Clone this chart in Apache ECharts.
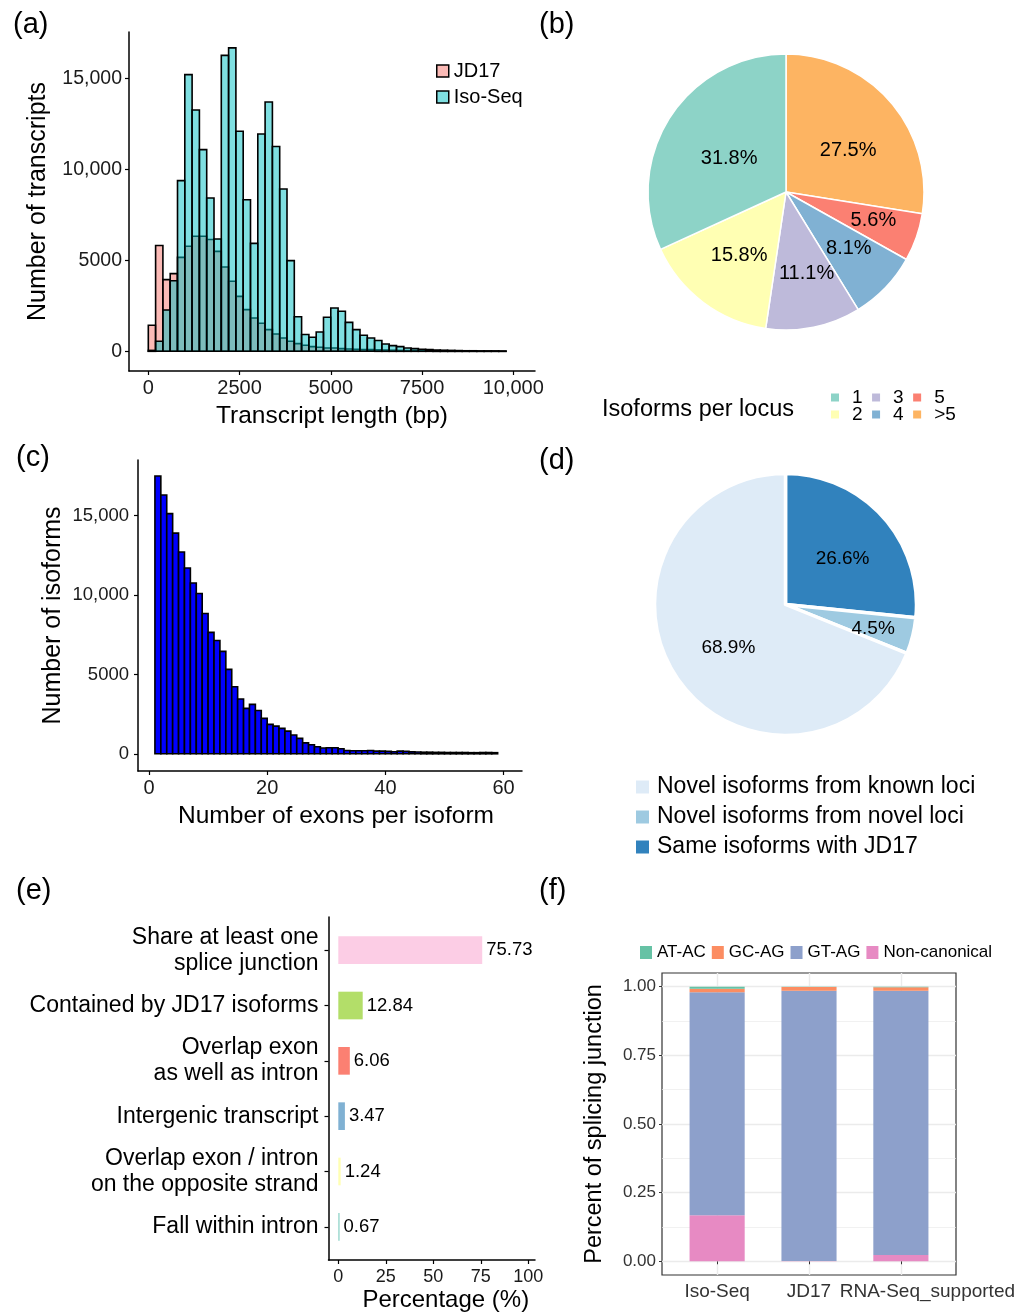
<!DOCTYPE html>
<html>
<head>
<meta charset="utf-8">
<script src="https://cdn.jsdelivr.net/npm/echarts@6/dist/echarts.min.js"></script>
<style>
  html, body { margin: 0; padding: 0; background: #fff; }
  #chart { width: 1032px; height: 1312px; }
</style>
</head>
<body>
<div id="chart"></div>
<script>
const FONT = '"Liberation Sans", Arial, sans-serif'

// (a) transcript length histogram, 200 bp bins from 0
const lengthBinWidth = 200
const jd17Counts = [1430, 5810, 3940, 4270, 5160, 5770, 6320, 6320, 6140, 5490, 4630, 3850, 3020, 2290, 1830, 1540, 1190, 950, 730, 550, 420, 330, 260, 220, 180, 180, 150, 130, 110, 100, 90, 80, 70, 60, 50, 40, 40, 30, 30, 20, 20, 20, 10, 10, 10, 10, 10, 10, 10]
const isoSeqCounts = [50, 550, 2270, 3880, 9380, 15200, 13260, 11080, 8420, 6170, 16260, 16670, 12090, 8330, 5930, 11940, 13700, 11250, 8920, 4980, 1900, 920, 770, 1060, 1870, 2380, 2200, 1590, 1190, 880, 730, 590, 400, 310, 260, 180, 150, 110, 90, 70, 60, 50, 40, 30, 30, 20, 20, 20, 10]
const lengthTicks = [0, 2500, 5000, 7500, 10000]
const countTicks = [0, 5000, 10000, 15000]

// (b) isoforms per locus
const locusClasses = ['>5', '5', '4', '3', '2', '1']
const locusPercents = [27.5, 5.6, 8.1, 11.1, 15.8, 31.8]

// (c) exons per isoform, one bin per exon count starting at 1
const exonCounts = [17500, 16300, 15130, 13900, 12710, 11700, 10760, 10100, 8840, 7650, 7140, 6450, 5320, 4220, 3450, 2860, 3110, 2730, 2230, 1850, 1740, 1600, 1430, 1180, 970, 690, 570, 440, 360, 380, 380, 320, 210, 190, 190, 190, 210, 170, 170, 150, 130, 170, 150, 120, 110, 100, 100, 90, 90, 80, 80, 80, 80, 70, 70, 80, 80, 70]
const exonTicks = [0, 20, 40, 60]

// (d) novelty classes
const noveltyClasses = ['Same isoforms with JD17', 'Novel isoforms from novel loci', 'Novel isoforms from known loci']
const noveltyPercents = [26.6, 4.5, 68.9]

// (e) structural categories
const classNames = ['Share at least one\nsplice junction', 'Contained by JD17 isoforms', 'Overlap exon\nas well as intron', 'Intergenic transcript', 'Overlap exon / intron\non the opposite strand', 'Fall within intron']
const classPercents = [75.73, 12.84, 6.06, 3.47, 1.24, 0.67]
const percentTicks = [0, 25, 50, 75, 100]

// (f) splice junction types
const junctionSamples = ['Iso-Seq', 'JD17', 'RNA-Seq_supported']
const atAc = [0.007, 0.001, 0.002]
const gcAg = [0.013, 0.014, 0.013]
const gtAg = [0.812, 0.984, 0.962]
const nonCanonical = [0.168, 0.001, 0.023]
const fractionTicks = [0, 0.25, 0.5, 0.75, 1]
const fractionMinorTicks = [0.125, 0.375, 0.625, 0.875]

// colours
const locusColors = { '1': '#8DD3C7', '2': '#FFFFB3', '3': '#BEBADA', '4': '#80B1D3', '5': '#FB8072', '>5': '#FDB462' }
const noveltyColors = ['#3182BD', '#9ECAE1', '#DEEBF7']
const classColors = ['#FCCDE5', '#B3DE69', '#FB8072', '#80B1D3', '#FFFFB3', '#8DD3C7']

// nudges of the pie percentage labels, px
const locusLabelShift = [[-1, 12], [9, 1], [3, -1], [4, 0], [3, -3], [13, 11]]
const noveltyLabelShift = [[-3, 9], [9, 5], [10, -2]]

const fmtCount = v => (v >= 10000 ? v.toLocaleString('en-US') : String(v))

function histRender(params, api) {
  const p0 = api.coord([api.value(0), api.value(2)])
  const p1 = api.coord([api.value(1), 0])
  return {
    type: 'rect',
    shape: { x: p0[0], y: p0[1], width: p1[0] - p0[0], height: p1[1] - p0[1] },
    style: { fill: api.visual('color'), stroke: '#000', lineWidth: 1.6 },
  }
}

function classRender(params, api) {
  const v = api.value(0)
  const pos = api.value(1)
  const a = api.coord([0, pos - 0.25])
  const b = api.coord([v, pos + 0.25])
  return {
    type: 'rect',
    shape: { x: a[0], y: Math.min(a[1], b[1]), width: b[0] - a[0], height: Math.abs(b[1] - a[1]) },
    style: { fill: classColors[params.dataIndex] },
    textContent: { type: 'text', style: { text: v.toFixed(2), fontSize: 18.5, fill: '#000', fontFamily: FONT } },
    textConfig: { position: 'right', distance: 4 },
  }
}

function stackRender(params, api) {
  const i = api.value(0)
  const a = api.coord([i - 0.3, api.value(2)])
  const b = api.coord([i + 0.3, api.value(1)])
  return {
    type: 'rect',
    shape: { x: a[0], y: a[1], width: b[0] - a[0], height: b[1] - a[1] },
    style: { fill: api.visual('color') },
  }
}

const lengthData = counts => counts.map((c, i) => [i * lengthBinWidth, (i + 1) * lengthBinWidth, c])
const exonData = exonCounts.map((c, i) => [i + 1, i + 2, c])

// stacked layers, bottom to top
const junctionLayers = [
  { name: 'Non-canonical', values: nonCanonical, color: '#E78AC3' },
  { name: 'GT-AG', values: gtAg, color: '#8DA0CB' },
  { name: 'GC-AG', values: gcAg, color: '#FC8D62' },
  { name: 'AT-AC', values: atAc, color: '#66C2A5' },
]
const stackBase = junctionSamples.map(() => 0)
const junctionSeries = junctionLayers.map(layer => ({
  type: 'custom',
  name: layer.name,
  xAxisIndex: 3,
  yAxisIndex: 3,
  itemStyle: { color: layer.color },
  renderItem: stackRender,
  encode: { x: 0, y: [1, 2] },
  data: layer.values.map((v, i) => {
    const lo = stackBase[i]
    stackBase[i] += v
    return [i + 1, lo, stackBase[i]]
  }),
}))

const blackAxis = { onZero: false, lineStyle: { color: '#000', width: 1.5 } }
const blackTick = { length: 4, lineStyle: { color: '#000', width: 1.2 } }
const gridBase = { containLabel: false, outerBoundsMode: 'none' }
const keepEnds = { showMinLabel: true, showMaxLabel: true }

const letter = (text, left, top) => ({
  text, left, top, padding: 0,
  textStyle: { fontSize: 29, fontWeight: 'normal', color: '#000', fontFamily: FONT },
})

const option = {
  animation: false,
  textStyle: { fontFamily: FONT },
  title: [
    letter('(a)', 13, 10),
    letter('(b)', 539, 10),
    letter('(c)', 16, 443),
    letter('(d)', 539, 446),
    letter('(e)', 16, 876),
    letter('(f)', 539, 876),
    {
      text: 'Isoforms per locus', left: 602, top: 398, padding: 0,
      textStyle: { fontSize: 23.5, fontWeight: 'normal', color: '#000', fontFamily: FONT },
    },
  ],
  legend: [
    {
      data: ['JD17', 'Iso-Seq'], orient: 'vertical', left: 436, top: 61, itemGap: 6, padding: 0,
      icon: 'rect', itemWidth: 12, itemHeight: 12, selectedMode: false,
      itemStyle: { borderColor: '#000', borderWidth: 1.5 },
      textStyle: { fontSize: 20, color: '#000' },
    },
    {
      data: ['1', '3', '5'], orient: 'horizontal', left: 831, top: 388, itemGap: 9.5, padding: 0,
      icon: 'rect', itemWidth: 8, itemHeight: 8, selectedMode: false,
      itemStyle: { borderWidth: 0 },
      textStyle: { fontSize: 19, color: '#000', padding: [0, 0, 0, 8] },
    },
    {
      data: ['2', '4', '>5'], orient: 'horizontal', left: 831, top: 405, itemGap: 9.5, padding: 0,
      icon: 'rect', itemWidth: 8, itemHeight: 8, selectedMode: false,
      itemStyle: { borderWidth: 0 },
      textStyle: { fontSize: 19, color: '#000', padding: [0, 0, 0, 8] },
    },
    {
      data: ['Novel isoforms from known loci', 'Novel isoforms from novel loci', 'Same isoforms with JD17'],
      orient: 'vertical', left: 636, top: 775, itemGap: 6, padding: 0,
      icon: 'rect', itemWidth: 13, itemHeight: 13, selectedMode: false,
      itemStyle: { borderWidth: 0 },
      textStyle: { fontSize: 23, color: '#000', lineHeight: 24, padding: [0, 0, 0, 3] },
    },
    {
      data: ['AT-AC', 'GC-AG', 'GT-AG', 'Non-canonical'], orient: 'horizontal', left: 640, top: 944, itemGap: 6, padding: 0,
      icon: 'rect', itemWidth: 12, itemHeight: 13, selectedMode: false,
      itemStyle: { borderWidth: 0 },
      textStyle: { fontSize: 17, color: '#000' },
    },
  ],
  grid: [
    { ...gridBase, left: 129, top: 32, width: 406, height: 339 },
    { ...gridBase, left: 138, top: 460, width: 384, height: 311 },
    { ...gridBase, left: 328.5, top: 917, width: 206.5, height: 343 },
    { ...gridBase, left: 662, top: 973, width: 294, height: 302, show: true, borderColor: '#333', borderWidth: 1.2 },
  ],
  xAxis: [
    {
      gridIndex: 0, type: 'value', min: -529, max: 10595,
      axisLine: blackAxis, axisTick: { ...blackTick, customValues: lengthTicks },
      axisLabel: { ...keepEnds, customValues: lengthTicks, formatter: fmtCount, fontSize: 20, color: '#1a1a1a', margin: 7 },
      splitLine: { show: false },
      name: 'Transcript length (bp)', nameLocation: 'middle', nameGap: 33,
      nameTextStyle: { fontSize: 24.5, color: '#000' },
    },
    {
      gridIndex: 1, type: 'value', min: -1.864, max: 63.12,
      axisLine: blackAxis, axisTick: { ...blackTick, customValues: exonTicks },
      axisLabel: { ...keepEnds, customValues: exonTicks, fontSize: 20, color: '#1a1a1a', margin: 7 },
      splitLine: { show: false },
      name: 'Number of exons per isoform', nameLocation: 'middle', nameGap: 33,
      nameTextStyle: { fontSize: 24.5, color: '#000', padding: [0, 0, 0, 12] },
    },
    {
      gridIndex: 2, type: 'value', min: -5.16, max: 103.5,
      axisLine: blackAxis, axisTick: { ...blackTick, customValues: percentTicks },
      axisLabel: { ...keepEnds, customValues: percentTicks, fontSize: 18, color: '#1a1a1a', margin: 8 },
      splitLine: { show: false },
      name: 'Percentage (%)', nameLocation: 'middle', nameGap: 28,
      nameTextStyle: { fontSize: 24, color: '#000', padding: [0, 0, 0, 28] },
    },
    {
      gridIndex: 3, type: 'value', min: 0.4, max: 3.6,
      axisLine: { show: false },
      axisTick: { customValues: [1, 2, 3], length: 3, lineStyle: { color: '#333' } },
      axisLabel: {
        ...keepEnds, customValues: [1, 2, 3],
        formatter: v => (v === 3 ? '{far|' + junctionSamples[2] + '}' : junctionSamples[Math.round(v) - 1]),
        rich: { far: { fontSize: 19, color: '#333', padding: [0, 0, 0, 53] } },
        fontSize: 19, color: '#333', margin: 7,
      },
      splitLine: { show: true, lineStyle: { color: '#EBEBEB', width: 1.4 } },
    },
  ],
  yAxis: [
    {
      gridIndex: 0, type: 'value', min: -1082, max: 17544,
      axisLine: blackAxis, axisTick: { ...blackTick, customValues: countTicks },
      axisLabel: { ...keepEnds, customValues: countTicks, formatter: fmtCount, fontSize: 19.5, color: '#1a1a1a', margin: 7 },
      splitLine: { show: false },
      name: 'Number of transcripts', nameLocation: 'middle', nameGap: 78,
      nameTextStyle: { fontSize: 25, color: '#000' },
    },
    {
      gridIndex: 1, type: 'value', min: -1084, max: 18505,
      axisLine: blackAxis, axisTick: { ...blackTick, customValues: countTicks },
      axisLabel: { ...keepEnds, customValues: countTicks, formatter: fmtCount, fontSize: 18.5, color: '#1a1a1a', margin: 9 },
      splitLine: { show: false },
      name: 'Number of isoforms', nameLocation: 'middle', nameGap: 72,
      nameTextStyle: { fontSize: 25, color: '#000' },
    },
    {
      gridIndex: 2, type: 'value', inverse: true, min: 0.4, max: 6.6,
      axisLine: blackAxis, axisTick: { ...blackTick, customValues: [1, 2, 3, 4, 5, 6] },
      axisLabel: {
        ...keepEnds, customValues: [1, 2, 3, 4, 5, 6], formatter: v => classNames[Math.round(v) - 1],
        fontSize: 23, lineHeight: 26, color: '#000', margin: 10, align: 'right',
      },
      splitLine: { show: false },
    },
    {
      gridIndex: 3, type: 'value', min: -0.05, max: 1.05,
      axisLine: { show: false },
      axisTick: { customValues: fractionTicks, length: 3, lineStyle: { color: '#333' } },
      axisLabel: { ...keepEnds, customValues: fractionTicks, formatter: v => v.toFixed(2), fontSize: 17, color: '#333', margin: 6 },
      splitLine: { show: true, lineStyle: { color: '#EBEBEB', width: 1.4 } },
      name: 'Percent of splicing junction', nameLocation: 'middle', nameGap: 55,
      nameTextStyle: { fontSize: 23.5, color: '#000' },
    },
    {
      gridIndex: 3, type: 'value', min: -0.05, max: 1.05, position: 'left',
      axisLine: { show: false },
      axisTick: { show: false, customValues: fractionMinorTicks },
      axisLabel: { show: false, customValues: fractionMinorTicks },
      splitLine: { show: true, lineStyle: { color: '#EBEBEB', width: 0.7 } },
    },
  ],
  series: [
    {
      type: 'custom', name: 'JD17', xAxisIndex: 0, yAxisIndex: 0,
      itemStyle: { color: 'rgba(248,118,109,0.5)' },
      renderItem: histRender, encode: { x: [0, 1], y: 2 },
      data: lengthData(jd17Counts),
    },
    {
      type: 'custom', name: 'Iso-Seq', xAxisIndex: 0, yAxisIndex: 0,
      itemStyle: { color: 'rgba(0,191,196,0.5)' },
      renderItem: histRender, encode: { x: [0, 1], y: 2 },
      data: lengthData(isoSeqCounts),
    },
    {
      type: 'custom', name: 'exons', xAxisIndex: 1, yAxisIndex: 1,
      itemStyle: { color: '#0000FF' },
      renderItem: histRender, encode: { x: [0, 1], y: 2 },
      data: exonData,
    },
    {
      type: 'pie', center: [786, 192], radius: 138, startAngle: 90, clockwise: true,
      silent: true, label: { show: false }, labelLine: { show: false },
      itemStyle: { borderColor: '#fff', borderWidth: 1.5 },
      data: locusClasses.map((n, i) => ({ name: n, value: locusPercents[i], itemStyle: { color: locusColors[n] } })),
    },
    {
      // label ring for (b)
      type: 'pie', center: [786, 192], radius: 160, startAngle: 90, clockwise: true,
      silent: true, labelLine: { show: false },
      itemStyle: { color: 'rgba(0,0,0,0)', borderWidth: 0 },
      label: { show: true, position: 'inside', formatter: p => p.value.toFixed(1) + '%', fontSize: 20, color: '#000' },
      labelLayout: p => ({ dx: locusLabelShift[p.dataIndex][0], dy: locusLabelShift[p.dataIndex][1] }),
      data: locusClasses.map((n, i) => ({ name: n, value: locusPercents[i] })),
    },
    {
      type: 'pie', center: [785.5, 604.5], radius: 131, startAngle: 90, clockwise: true,
      silent: true, label: { show: false }, labelLine: { show: false },
      itemStyle: { borderColor: '#fff', borderWidth: 3.5 },
      data: noveltyClasses.map((n, i) => ({ name: n, value: noveltyPercents[i], itemStyle: { color: noveltyColors[i] } })),
    },
    {
      // label ring for (d)
      type: 'pie', center: [785.5, 604.5], radius: 156, startAngle: 90, clockwise: true,
      silent: true, labelLine: { show: false },
      itemStyle: { color: 'rgba(0,0,0,0)', borderWidth: 0 },
      label: { show: true, position: 'inside', formatter: p => p.value.toFixed(1) + '%', fontSize: 19, color: '#000' },
      labelLayout: p => ({ dx: noveltyLabelShift[p.dataIndex][0], dy: noveltyLabelShift[p.dataIndex][1] }),
      data: noveltyClasses.map((n, i) => ({ name: n, value: noveltyPercents[i] })),
    },
    {
      type: 'custom', name: 'classes', xAxisIndex: 2, yAxisIndex: 2,
      renderItem: classRender, encode: { x: 0, y: 1 },
      data: classPercents.map((v, i) => [v, i + 1]),
    },
    ...junctionSeries,
  ],
}

const chart = echarts.init(document.getElementById('chart'), null, { renderer: 'canvas' })
chart.setOption(option)
</script>
</body>
</html>
